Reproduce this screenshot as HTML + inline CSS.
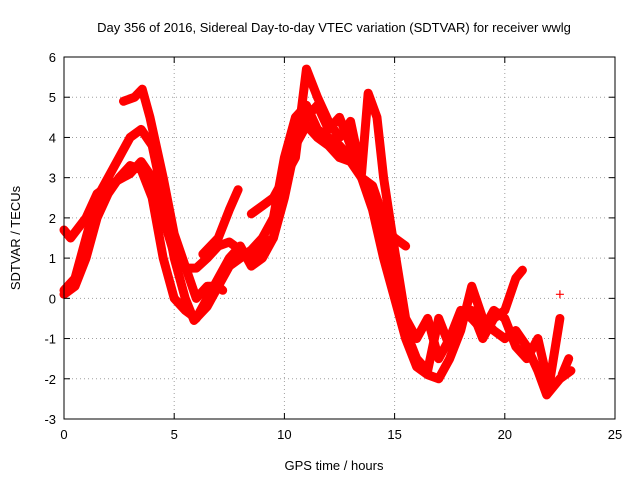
<!DOCTYPE html>
<html><head><meta charset="utf-8"><style>
body{margin:0;background:#fff}
svg{font-family:"Liberation Sans",sans-serif;font-size:13px}
</style></head><body>
<svg width="640" height="480">
<rect width="640" height="480" fill="#fff"/>
<text x="334" y="32" text-anchor="middle">Day 356 of 2016, Sidereal Day-to-day VTEC variation (SDTVAR) for receiver wwlg</text>
<g id="grid"></g>
<g id="marks"></g>
<g id="axes"></g>
<text x="334" y="470" text-anchor="middle">GPS time / hours</text>
<text transform="translate(20,238) rotate(-90)" text-anchor="middle">SDTVAR / TECUs</text>
</svg>
<script>
const xTicks=[0,5,10,15,20,25];
const yTicks=[-3,-2,-1,0,1,2,3,4,5,6];
const traceA=[[0,1.7],[0.3,1.5],[1,2.0],[1.5,2.6],[2,2.8],[3,3.1],[3.5,3.4],[4,3.0],[4.5,2.0],[5,1.1],[5.5,0.75],[6,0.75],[6.5,1.0],[7,1.3],[7.5,1.4],[8,1.2],[8.5,1.0],[9,1.3],[9.5,1.5],[10,2.5],[10.5,3.8],[11,4.3],[11.5,4.0],[12,3.8],[12.5,3.5],[13,3.4],[13.5,3.0],[14,2.5],[14.5,1.8],[15,1.5],[15.5,1.3]];
const traceB=[[0,0.2],[0.5,0.5],[1,1.5],[1.5,2.5],[2,3.0],[2.5,3.5],[3,4.0],[3.5,4.2],[4,3.8],[4.5,2.5],[5,1.0],[5.5,0.0],[5.9,-0.55],[6.5,-0.2],[7,0.3],[7.5,0.8],[8,1.0],[8.5,1.2],[9,1.5],[9.5,2.0],[10,3.5],[10.5,4.5],[11,4.8],[11.5,4.2],[12,4.0],[12.5,3.8],[13,3.5],[13.5,3.0],[14,2.2],[14.5,1.0],[15,0.0],[15.5,-1.0],[16,-1.7],[16.5,-1.9],[17,-2.0],[17.5,-1.5],[18,-0.8],[18.5,0.3],[19,-0.5],[19.5,-0.8],[20,-1.0],[20.5,-0.8],[21,-1.2],[21.5,-1.8],[21.9,-2.4],[22.5,-2.0],[23,-1.8]];
const traceC=[[0,0.1],[0.5,0.3],[1,1.0],[1.5,2.0],[2,2.6],[2.5,3.0],[3,3.3],[3.5,3.2],[4,2.5],[4.5,1.0],[5,0.0],[5.5,-0.3],[6,-0.5],[6.5,0.0],[7,0.5],[7.5,1.0],[8,1.3],[8.5,0.8],[9,1.0],[9.5,1.5],[10,2.8],[10.5,4.0],[11,4.5],[11.5,4.8],[12,4.2],[12.5,4.5],[13,3.8],[13.5,3.0],[14,2.8],[14.5,2.0],[15,0.5],[15.5,-0.8],[16,-1.5],[16.5,-1.8],[17,-0.5],[17.5,-1.2],[18,-0.5],[18.5,-0.3],[19,-1.0],[19.5,-0.5],[20,-0.3],[20.5,0.5],[20.8,0.7]];
const traceD1=[[2.7,4.9],[3.2,5.0],[3.55,5.2],[3.9,4.5],[4.5,3.0],[5,1.6],[5.5,0.8],[6,0.0],[6.5,0.3],[7,0.3],[7.2,0.2]];
const traceD2=[[6.3,1.1],[7,1.5],[7.5,2.2],[7.9,2.7]];
const traceD3=[[8.5,2.1],[9,2.3],[9.5,2.5],[10,3.0],[10.5,3.5],[11,5.7],[11.5,5.0],[12,4.4],[12.5,4.0],[13,4.4],[13.5,3.1],[13.8,5.1],[14.2,4.5],[14.5,3.0],[15,1.2],[15.5,-0.5],[16,-1.0],[16.5,-0.5],[17,-1.5],[17.5,-1.0],[18,-0.3],[18.5,-0.5],[19,-0.8],[19.5,-0.3],[20,-0.5],[20.5,-1.2],[21,-1.5],[21.5,-1.0],[22,-2.2],[22.5,-0.5]];
const traceE=[[22.5,0.1]];
const traceF=[[22.6,-1.9],[22.9,-1.5]];
const traces=[traceA,traceB,traceC,traceD1,traceD2,traceD3,traceE,traceF];
const L=64,R=615,T=57,B=419;
const sx=v=>L+(v-0)/(25-0)*(R-L);
const sy=v=>B-(v+3)/9*(B-T);
const NS='http://www.w3.org/2000/svg';
const grid=document.getElementById('grid'),axes=document.getElementById('axes'),marks=document.getElementById('marks');
function mk(tag,attrs,parent){const e=document.createElementNS(NS,tag);for(const k in attrs)e.setAttribute(k,attrs[k]);parent.appendChild(e);return e;}
xTicks.forEach(t=>{
  const x=sx(t);
  if(t>0&&t<25){const g=mk('line',{x1:x,x2:x,y1:T,y2:B,stroke:'#a0a0a0','stroke-dasharray':'1,3'},grid);
  
  }
  mk('line',{x1:x,x2:x,y1:B,y2:B-6,stroke:'#000'},axes);
  mk('line',{x1:x,x2:x,y1:T,y2:T+6,stroke:'#000'},axes);
  const tx=mk('text',{x:x,y:B+20,'text-anchor':'middle'},axes);tx.textContent=t;
  
  
});
yTicks.forEach(t=>{
  const y=sy(t);
  if(t>-3&&t<6){const g=mk('line',{x1:L,x2:R,y1:y,y2:y,stroke:'#a0a0a0','stroke-dasharray':'1,3'},grid);
  
  }
  mk('line',{x1:L,x2:L+6,y1:y,y2:y,stroke:'#000'},axes);
  mk('line',{x1:R,x2:R-6,y1:y,y2:y,stroke:'#000'},axes);
  const tx=mk('text',{x:L-8,y:y+5,'text-anchor':'end'},axes);tx.textContent=t;
  
  
});
mk('rect',{x:L,y:T,width:R-L,height:B-T,fill:'none',stroke:'#000'},axes);
traces.forEach(tr=>{
  const p=mk('polyline',{points:tr.map(d=>sx(d[0])+','+sy(d[1])).join(' '),fill:'none',stroke:'#f00','stroke-width':9,'stroke-linejoin':'round','stroke-linecap':'round'},marks);
  
  
  tr.forEach(d=>{
    const x=sx(d[0]),y=sy(d[1]);
    const m=mk('path',{d:`M${x-4},${y}H${x+4}M${x},${y-4}V${y+4}`,stroke:'#f00','stroke-width':1.2},marks);
    
    
  });
});
</script>
</body></html>
